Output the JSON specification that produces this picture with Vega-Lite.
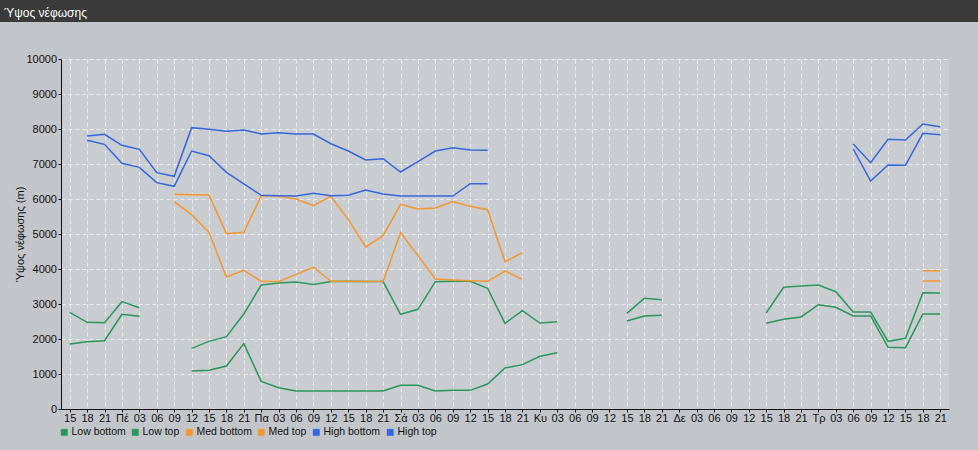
{
  "$schema": "https://vega.github.io/schema/vega-lite/v6.json",
  "background": "#c2c6ca",
  "padding": {"left": 0, "top": 0, "right": 0, "bottom": 15},
  "spacing": 31,
  "config": {
    "font": "Liberation Sans",
    "view": {"stroke": null}
  },
  "vconcat": [
    {
      "width": 978,
      "height": 22,
      "view": {"fill": "#3a3a3a", "stroke": null},
      "title": {"text": "Ύψος νέφωσης", "anchor": "start", "frame": "group", "color": "#ffffff", "fontSize": 12, "fontWeight": "normal", "offset": -17, "dx": 4, "dy": 3},
      "data": {"values": []},
      "mark": "text",
      "encoding": {}
    },
    {
      "spacing": 0,
      "hconcat": [
        {
          "width": 14,
          "height": 350,
          "view": {"fill": null, "stroke": null},
          "data": {"values": []},
          "mark": "text",
          "encoding": {}
        },
        {
          "width": 888,
          "height": 350,
          "view": {"fill": "#c9ccd0", "stroke": null},
          "data": {
            "values": [
              {"t": 0, "lb": 1857, "lt": 2762},
              {"t": 1, "lb": 1924, "lt": 2476, "hb": 7676, "ht": 7800},
              {"t": 2, "lb": 1952, "lt": 2467, "hb": 7562, "ht": 7848},
              {"t": 3, "lb": 2705, "lt": 3067, "hb": 7019, "ht": 7533},
              {"t": 4, "lb": 2648, "lt": 2895, "hb": 6905, "ht": 7419},
              {"t": 5, "hb": 6467, "ht": 6752},
              {"t": 6, "mb": 5924, "mt": 6133, "hb": 6362, "ht": 6648},
              {"t": 7, "lb": 1086, "lt": 1733, "mb": 5552, "mt": 6124, "hb": 7371, "ht": 8038},
              {"t": 8, "lb": 1105, "lt": 1933, "mb": 5048, "mt": 6114, "hb": 7238, "ht": 7990},
              {"t": 9, "lb": 1229, "lt": 2067, "mb": 3771, "mt": 5010, "hb": 6762, "ht": 7933},
              {"t": 10, "lb": 1867, "lt": 2714, "mb": 3962, "mt": 5048, "hb": 6429, "ht": 7971},
              {"t": 11, "lb": 790, "lt": 3543, "mb": 3648, "mt": 6095, "hb": 6105, "ht": 7857},
              {"t": 12, "lb": 610, "lt": 3600, "mb": 3638, "mt": 6076, "hb": 6095, "ht": 7895},
              {"t": 13, "lb": 514, "lt": 3629, "mb": 3848, "mt": 6000, "hb": 6086, "ht": 7857},
              {"t": 14, "lb": 514, "lt": 3560, "mb": 4050, "mt": 5810, "hb": 6162, "ht": 7857},
              {"t": 15, "lb": 514, "lt": 3640, "mb": 3648, "mt": 6080, "hb": 6095, "ht": 7580},
              {"t": 16, "lb": 514, "lt": 3648, "mb": 3648, "mt": 5410, "hb": 6105, "ht": 7371},
              {"t": 17, "lb": 514, "lt": 3640, "mb": 3640, "mt": 4629, "hb": 6257, "ht": 7114},
              {"t": 18, "lb": 514, "lt": 3640, "mb": 3648, "mt": 4952, "hb": 6143, "ht": 7152},
              {"t": 19, "lb": 676, "lt": 2705, "mb": 5038, "mt": 5848, "hb": 6086, "ht": 6771},
              {"t": 20, "lb": 676, "lt": 2848, "mb": 4381, "mt": 5714, "hb": 6086, "ht": 7067},
              {"t": 21, "lb": 514, "lt": 3638, "mb": 3714, "mt": 5743, "hb": 6086, "ht": 7371},
              {"t": 22, "lb": 533, "lt": 3648, "mb": 3686, "mt": 5924, "hb": 6086, "ht": 7467},
              {"t": 23, "lb": 533, "lt": 3648, "mb": 3667, "mt": 5790, "hb": 6438, "ht": 7400},
              {"t": 24, "lb": 714, "lt": 3448, "mb": 3648, "mt": 5695, "hb": 6438, "ht": 7390},
              {"t": 25, "lb": 1171, "lt": 2448, "mb": 3943, "mt": 4210},
              {"t": 26, "lb": 1267, "lt": 2810, "mb": 3705, "mt": 4467},
              {"t": 27, "lb": 1505, "lt": 2457},
              {"t": 28, "lb": 1610, "lt": 2495},
              {"t": 29},
              {"t": 30},
              {"t": 31},
              {"t": 32, "lb": 2514, "lt": 2733},
              {"t": 33, "lb": 2657, "lt": 3162},
              {"t": 34, "lb": 2676, "lt": 3124},
              {"t": 35},
              {"t": 36},
              {"t": 37},
              {"t": 38},
              {"t": 39},
              {"t": 40, "lb": 2448, "lt": 2743},
              {"t": 41, "lb": 2562, "lt": 3476},
              {"t": 42, "lb": 2629, "lt": 3514},
              {"t": 43, "lb": 2981, "lt": 3543},
              {"t": 44, "lb": 2905, "lt": 3352},
              {"t": 45, "lb": 2657, "lt": 2771, "hb": 7429, "ht": 7571},
              {"t": 46, "lb": 2657, "lt": 2771, "hb": 6514, "ht": 7038},
              {"t": 47, "lb": 1762, "lt": 1933, "hb": 6971, "ht": 7705},
              {"t": 48, "lb": 1752, "lt": 2019, "hb": 6962, "ht": 7686},
              {"t": 49, "lb": 2714, "lt": 3324, "mb": 3657, "mt": 3952, "hb": 7876, "ht": 8143},
              {"t": 50, "lb": 2714, "lt": 3314, "mb": 3657, "mt": 3952, "hb": 7838, "ht": 8067}
            ]
          },
          "transform": [
            {"fold": ["lb", "lt", "mb", "mt", "hb", "ht"], "as": ["series", "value"]}
          ],
          "mark": {"type": "line", "strokeWidth": 1.5, "invalid": "break-paths-show-domains"},
          "encoding": {
            "x": {
              "field": "t",
              "type": "quantitative",
              "scale": {"domain": [-0.5, 50.5], "nice": false, "zero": false},
              "axis": {
                "title": null,
                "values": [0,1,2,3,4,5,6,7,8,9,10,11,12,13,14,15,16,17,18,19,20,21,22,23,24,25,26,27,28,29,30,31,32,33,34,35,36,37,38,39,40,41,42,43,44,45,46,47,48,49,50],
                "labelExpr": "['15','18','21','Πέ','03','06','09','12','15','18','21','Πα','03','06','09','12','15','18','21','Σά','03','06','09','12','15','18','21','Κυ','03','06','09','12','15','18','21','Δε','03','06','09','12','15','18','21','Τρ','03','06','09','12','15','18','21'][datum.value]",
                "labelOverlap": false,
                "labelFlush": false,
                "labelAngle": 0,
                "labelFontSize": 11,
                "labelColor": "#111111",
                "labelPadding": 0,
                "tickSize": 3,
                "tickColor": "#111111",
                "domainColor": "#111111",
                "grid": true,
                "gridColor": "#ffffff",
                "gridOpacity": 0.6,
                "gridDash": [4, 3]
              }
            },
            "y": {
              "field": "value",
              "type": "quantitative",
              "scale": {"domain": [0, 10000], "nice": false},
              "axis": {
                "title": "Ύψος νέφωσης (m)",
                "titleFontSize": 11,
                "titleFontWeight": "normal",
                "titleColor": "#111111",
                "titlePadding": 0,
                "values": [0,1000,2000,3000,4000,5000,6000,7000,8000,9000,10000],
                "format": "d",
                "labelFontSize": 11,
                "labelColor": "#111111",
                "labelPadding": 1.5,
                "tickSize": 3,
                "tickColor": "#111111",
                "domainColor": "#111111",
                "grid": true,
                "gridColor": "#ffffff",
                "gridOpacity": 0.6,
                "gridDash": [4, 3]
              }
            },
            "color": {
              "field": "series",
              "type": "nominal",
              "scale": {
                "domain": ["lb", "lt", "mb", "mt", "hb", "ht"],
                "range": ["#2a9558", "#2a9a5c", "#f5962f", "#f5962f", "#3366e0", "#3366e0"]
              },
              "legend": {
                "title": null,
                "orient": "none",
                "legendX": 59,
                "legendY": 427,
                "direction": "horizontal",
                "symbolType": "square",
                "symbolSize": 40,
                "labelFontSize": 10.5,
                "labelColor": "#111111",
                "labelOffset": 2,
                "columnPadding": 4,
                "labelExpr": "{'lb':'Low bottom','lt':'Low top','mb':'Med bottom','mt':'Med top','hb':'High bottom','ht':'High top'}[datum.value]",
                "encode": {
                  "symbols": {
                    "update": {
                      "fill": {"scale": "color", "field": "value"},
                      "fillOpacity": {"value": 1},
                      "stroke": {"value": "#666666"},
                      "strokeWidth": {"value": 0.5}
                    }
                  }
                }
              }
            }
          }
        }
      ]
    }
  ]
}
